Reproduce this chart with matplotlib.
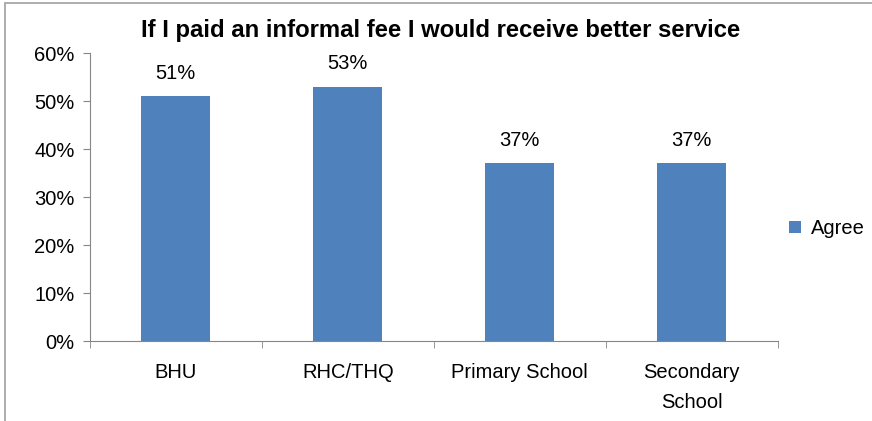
import matplotlib.pyplot as plt
from matplotlib.patches import Rectangle

plt.rcParams["font.family"] = ["Liberation Sans", "DejaVu Sans"]

categories = ["BHU", "RHC/THQ", "Primary School", "Secondary\nSchool"]
agree = [51, 53, 37, 37]
y_ticks = [0, 10, 20, 30, 40, 50, 60]

axis_grey = "#868686"
bar_blue = "#4F81BD"
fs = 14.5

fig = plt.figure(figsize=(8.72, 4.21), dpi=100)
ax = fig.add_axes([0.103, 0.19, 0.789, 0.684])

x = list(range(len(categories)))
bars = ax.bar(x, agree, width=0.4, color=bar_blue, label="Agree")

for rect, v in zip(bars, agree):
    ax.annotate(f"{v}%", (rect.get_x() + rect.get_width() / 2, v),
                xytext=(0, 16.5), textcoords="offset points",
                ha="center", va="center", fontsize=fs)

ax.set_xlim(-0.5, len(categories) - 0.5)
ax.set_ylim(0, 60)
ax.set_yticks(y_ticks)
ax.set_yticklabels([f"{t}%" for t in y_ticks], fontsize=fs)

ax.set_xticks(x)
ax.set_xticklabels(categories, fontsize=fs, linespacing=1.7)
ax.tick_params(axis="x", length=0, pad=16)
# category separators on the x axis
ax.set_xticks([i - 0.5 for i in range(len(categories) + 1)], minor=True)
ax.tick_params(axis="x", which="minor", length=5, color=axis_grey, direction="out")
ax.tick_params(axis="y", length=5, color=axis_grey, pad=6)

for side in ["top", "right"]:
    ax.spines[side].set_visible(False)
for side in ["left", "bottom"]:
    ax.spines[side].set_color(axis_grey)

fig.text(0.505, 0.927, "If I paid an informal fee I would receive better service",
         ha="center", va="center", fontsize=17.2, fontweight="bold")

ax.legend(loc="center left", bbox_to_anchor=(0.99, 0.39), frameon=False,
          fontsize=fs, handlelength=0.6, handleheight=0.6, handletextpad=0.5)

# outer chart frame
fig.patches.append(Rectangle((0.006, -0.1), 1.2, 1.093, transform=fig.transFigure,
                             fill=False, edgecolor="#A0A0A0", linewidth=1.2))

fig.savefig("out.png", dpi=100)
